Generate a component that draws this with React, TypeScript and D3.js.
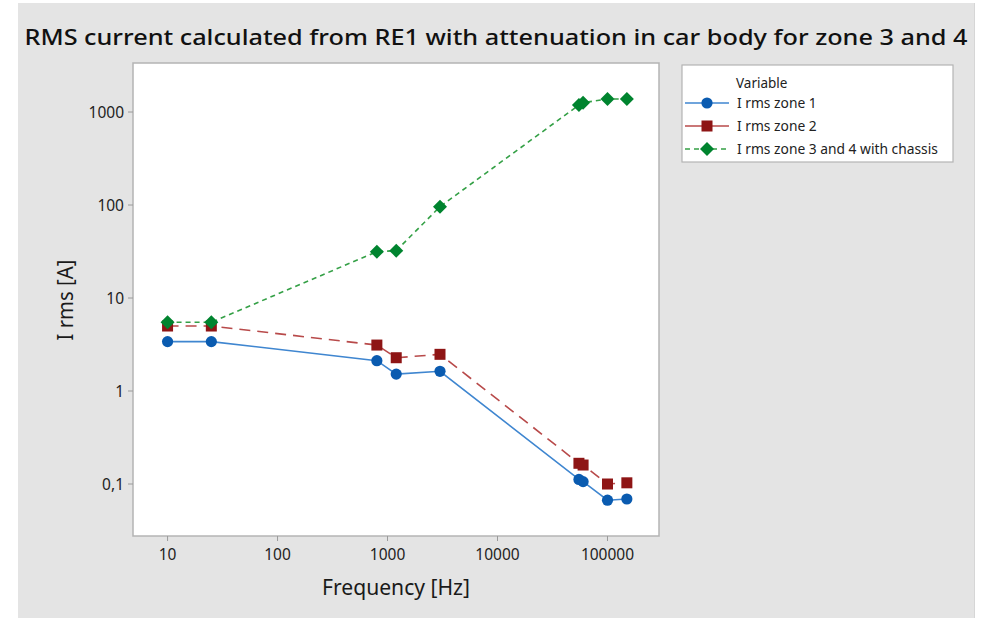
import React from "react";
import * as d3 from "d3";

const frequencies = [10, 25, 800, 1200, 3000, 55000, 60000, 100000, 150000];
const zone1 = [3.4, 3.4, 2.12, 1.52, 1.63, 0.112, 0.106, 0.067, 0.069];
const zone2 = [5.0, 5.0, 3.12, 2.28, 2.48, 0.167, 0.16, 0.1, 0.103];
const zone34 = [5.48, 5.48, 31.5, 32.3, 96, 1190, 1260, 1380, 1380];

const xTicks = [10, 100, 1000, 10000, 100000];
const yTicks = [0.1, 1, 10, 100, 1000];
const seriesNames = ["I rms zone 1", "I rms zone 2", "I rms zone 3 and 4 with chassis"];

const W = 983;
const H = 618;
const plot = { left: 133, top: 63, right: 659, bottom: 536 };

const font = "'Noto Sans', 'Open Sans', sans-serif";

export default function App() {
  const x = d3.scaleLog().domain([4.85, 294000]).range([plot.left, plot.right]);
  const y = d3.scaleLog().domain([0.0276, 3367]).range([plot.bottom, plot.top]);

  const line = d3
    .line<[number, number]>()
    .x((d) => x(d[0]))
    .y((d) => y(d[1]));

  const series = [
    { name: seriesNames[0], values: zone1, line: "#3f86d0", marker: "#0a5bb0", dash: "none", shape: "circle" },
    { name: seriesNames[1], values: zone2, line: "#b84a4a", marker: "#8e1515", dash: "11,7", shape: "square" },
    { name: seriesNames[2], values: zone34, line: "#34a046", marker: "#00842f", dash: "5,4", shape: "diamond" },
  ];

  const marker = (shape: string, cx: number, cy: number, color: string, key?: any) => {
    if (shape === "circle") return <circle key={key} cx={cx} cy={cy} r={5.6} fill={color} />;
    if (shape === "square")
      return <rect key={key} x={cx - 5.5} y={cy - 5.5} width={11} height={11} fill={color} />;
    const s = 7;
    return (
      <path key={key} d={`M${cx},${cy - s}L${cx + s},${cy}L${cx},${cy + s}L${cx - s},${cy}Z`} fill={color} />
    );
  };

  const legend = { x: 682, y: 65, w: 271, h: 97 };

  return (
    <svg
      width={W}
      height={H}
      style={{ position: "absolute", left: 0, top: 0, display: "block" }}
      fontFamily={font}
    >
      <rect x={0} y={0} width={W} height={H} fill="#ffffff" />
      <rect x={18} y={3} width={957} height={H} fill="#e4e4e4" />
      <line x1={974.5} y1={3} x2={974.5} y2={H} stroke="#d6d6d6" />

      <text
        x={496}
        y={45}
        textAnchor="middle"
        fontSize={22}
        fontWeight={500}
        fill="#111"
        textLength={943}
        lengthAdjust="spacingAndGlyphs"
      >
        RMS current calculated from RE1 with attenuation in car body for zone 3 and 4
      </text>

      <rect
        x={plot.left}
        y={plot.top}
        width={plot.right - plot.left}
        height={plot.bottom - plot.top}
        fill="#ffffff"
        stroke="#b4b4b4"
        strokeWidth={1.5}
      />

      {xTicks.map((t) => (
        <g key={"xt" + t}>
          <line x1={x(t)} x2={x(t)} y1={plot.bottom} y2={plot.bottom + 5} stroke="#9a9a9a" />
          <text x={x(t)} y={plot.bottom + 24} textAnchor="middle" fontSize={15.5} fill="#222">
            {t}
          </text>
        </g>
      ))}
      {yTicks.map((t) => (
        <g key={"yt" + t}>
          <line x1={plot.left - 5} x2={plot.left} y1={y(t)} y2={y(t)} stroke="#9a9a9a" />
          <text x={plot.left - 9} y={y(t) + 5.6} textAnchor="end" fontSize={15.5} fill="#222">
            {t < 1 ? String(t).replace(".", ",") : t}
          </text>
        </g>
      ))}

      <text
        x={396}
        y={595}
        textAnchor="middle"
        fontSize={22}
        fill="#1a1a1a"
        textLength={148}
        lengthAdjust="spacingAndGlyphs"
      >
        Frequency [Hz]
      </text>
      <text
        transform={`translate(73,300) rotate(-90)`}
        textAnchor="middle"
        fontSize={21}
        fill="#1a1a1a"
        textLength={81}
        lengthAdjust="spacingAndGlyphs"
      >
        I rms [A]
      </text>

      {series.map((s, i) => {
        const pts = frequencies.map((f, j) => [f, s.values[j]] as [number, number]);
        return (
          <g key={"s" + i}>
            <path
              d={line(pts) || ""}
              fill="none"
              stroke={s.line}
              strokeWidth={1.6}
              strokeDasharray={s.dash}
            />
            {pts.map((p, j) => marker(s.shape, x(p[0]), y(p[1]), s.marker, j))}
          </g>
        );
      })}

      <rect
        x={legend.x}
        y={legend.y}
        width={legend.w}
        height={legend.h}
        fill="#ffffff"
        stroke="#b4b4b4"
        strokeWidth={1.2}
      />
      <text x={736} y={88} fontSize={13.5} fill="#222">
        Variable
      </text>
      {series.map((s, i) => {
        const cy = 103 + i * 23;
        return (
          <g key={"lg" + i}>
            <line
              x1={685}
              x2={729}
              y1={cy}
              y2={cy}
              stroke={s.line}
              strokeWidth={1.6}
              strokeDasharray={i === 2 ? "5,4" : "none"}
            />
            {marker(s.shape, 707, cy, s.marker)}
            <text x={737} y={cy + 4.8} fontSize={13.8} fill="#222">
              {s.name}
            </text>
          </g>
        );
      })}
    </svg>
  );
}
